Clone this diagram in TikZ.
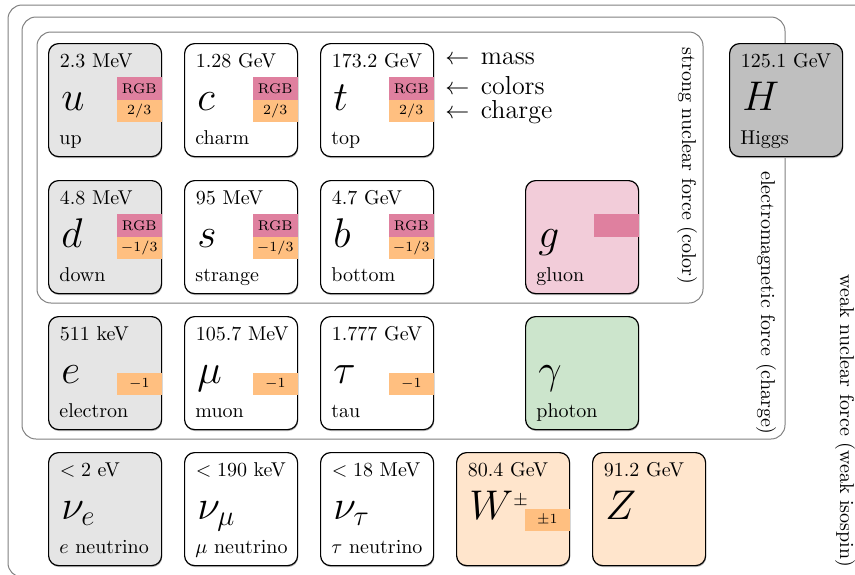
\documentclass[tikz,border=0pt]{standalone}
\usepackage{amssymb}
\begin{document}
\begin{tikzpicture}[x=0.5pt,y=-0.5pt,
  frame/.style={draw=black!50, line width=0.5pt, rounded corners=7pt},
  pbox/.style={draw=black, line width=0.6pt, rounded corners=5pt, minimum width=56.5pt, minimum height=56.5pt, anchor=north west, inner sep=0pt,
    preaction={fill=black!30, draw=none, transform canvas={xshift=0.3pt,yshift=-0.7pt}}},
  masstext/.style={anchor=base west, inner sep=0pt, font=\normalsize},
  symtext/.style={anchor=base west, inner sep=0pt, font=\huge},
  nametext/.style={anchor=base west, inner sep=0pt, font=\normalsize},
  colbox/.style={fill=purple!50, anchor=north east, minimum width=22.5pt, minimum height=11.5pt, inner sep=0pt, font=\scriptsize},
  chgbox/.style={fill=orange!50, anchor=north east, minimum width=22.5pt, minimum height=11.25pt, inner sep=0pt, font=\scriptsize},
  forcetext/.style={rotate=-90, font=\normalsize, inner sep=0pt},
  keytext/.style={anchor=base west, inner sep=0pt, font=\fontsize{13}{14}\selectfont}
]
\newcommand\particle[7]{%
  \node[pbox,fill=#4] (#1) at (#2,#3) {};
  \node[masstext] (#1-mass) at ([xshift=5.75pt,yshift=-12.2pt]#1.north west) {#5};
  \node[symtext] (#1-sym) at ([xshift=6.5pt,yshift=-33.5pt]#1.north west) {#6};
  \node[nametext] (#1-name) at ([xshift=5.5pt,yshift=-50.5pt]#1.north west) {#7};
}
\newcommand\pcolor[2]{\node[colbox] (#1-col) at ([yshift=-16.75pt]#1.north east) {#2};}
\newcommand\pcharge[2]{\node[chgbox] (#1-chg) at ([yshift=-28.25pt]#1.north east) {#2};}
\useasboundingbox (0,0) rectangle (855,574);
\clip (0,0) rectangle (855,574);
% force frames
\draw[frame] (8,5) rectangle (870,577);
\draw[frame] (22,17) rectangle (785,439);
\draw[frame] (37,32) rectangle (703,303);
\node[forcetext] (strong) at (687,166) {strong nuclear force (color)};
\node[forcetext] (em) at (766,303) {electromagnetic force (charge)};
\node[forcetext] (weak) at (845,421) {weak nuclear force (weak isospin)};
% quarks
\particle{u}{48}{43}{gray!20}{2.3 MeV}{$u$}{up}
\pcolor{u}{RGB}\pcharge{u}{$2/3$}
\particle{c}{184}{43}{white}{1.28 GeV}{$c$}{charm}
\pcolor{c}{RGB}\pcharge{c}{$2/3$}
\particle{t}{320}{43}{white}{173.2 GeV}{$t$}{top}
\pcolor{t}{RGB}\pcharge{t}{$2/3$}
\particle{d}{48}{180}{gray!20}{4.8 MeV}{$d$}{down}
\pcolor{d}{RGB}\pcharge{d}{$-1/3$}
\particle{s}{184}{180}{white}{95 MeV}{$s$}{strange}
\pcolor{s}{RGB}\pcharge{s}{$-1/3$}
\particle{b}{320}{180}{white}{4.7 GeV}{$b$}{bottom}
\pcolor{b}{RGB}\pcharge{b}{$-1/3$}
% leptons
\particle{e}{48}{316}{gray!20}{511 keV}{$e$}{electron}
\pcharge{e}{$-1$}
\particle{mu}{184}{316}{white}{105.7 MeV}{$\mu$}{muon}
\pcharge{mu}{$-1$}
\particle{tau}{320}{316}{white}{1.777 GeV}{$\tau$}{tau}
\pcharge{tau}{$-1$}
\particle{nue}{48}{452}{gray!20}{$<2$ eV}{$\nu_e$}{$e$ neutrino}
\particle{numu}{184}{452}{white}{$<190$ keV}{$\nu_\mu$}{$\mu$ neutrino}
\particle{nutau}{320}{452}{white}{$<18$ MeV}{$\nu_\tau$}{$\tau$ neutrino}
% bosons
\particle{g}{525}{180}{purple!20}{}{$g$}{gluon}
\pcolor{g}{}
\particle{gamma}{525}{316}{green!50!black!20}{}{$\gamma$}{photon}
\particle{W}{456}{452}{orange!20}{80.4 GeV}{$W$\raisebox{6.8pt}{\small$\pm$}}{}
\pcharge{W}{$\pm1$}
\particle{Z}{592}{452}{orange!20}{91.2 GeV}{$Z$}{}
\particle{H}{729}{43}{gray!50}{125.1 GeV}{$H$}{Higgs}
% key
\node[keytext] (kmass) at (445,64) {$\leftarrow$\kern1.5pt{} mass};
\node[keytext] (kcol) at (445,94) {$\leftarrow$\kern1.5pt{} colors};
\node[keytext] (kchg) at (445,118) {$\leftarrow$\kern1.5pt{} charge};
\end{tikzpicture}
\end{document}
